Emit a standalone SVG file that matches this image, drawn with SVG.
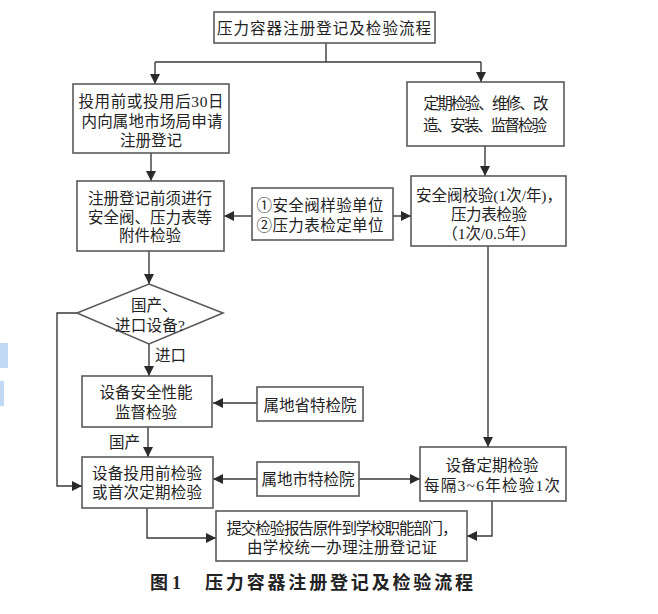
<svg xmlns="http://www.w3.org/2000/svg" width="658" height="614" viewBox="0 0 658 614">
<defs>
<marker id="arr" viewBox="0 0 10 10" refX="10" refY="5" markerWidth="10" markerHeight="11" markerUnits="userSpaceOnUse" orient="auto">
<path d="M0,0 L10,5 L0,10 z" fill="#2b2b2b"/>
</marker>
<style>
.box{fill:#fff;stroke:#5a5a5a;stroke-width:1.6}
.t{font-family:"Liberation Serif","Noto Sans CJK SC",serif;font-size:15.5px;fill:#222;text-anchor:middle;dominant-baseline:central}
.ts{font-family:"Liberation Serif","Noto Sans CJK SC",serif;font-size:15.5px;fill:#222;dominant-baseline:central}
.c{fill:none;stroke:#3a3a3a;stroke-width:1.4}
.ca{fill:none;stroke:#3a3a3a;stroke-width:1.4;marker-end:url(#arr)}
.cap{font-family:"Liberation Serif","Noto Sans CJK SC",sans-serif;font-size:18px;font-weight:bold;fill:#222;dominant-baseline:central}
</style>
</defs>
<rect width="658" height="614" fill="#fff"/>
<rect x="0" y="343" width="8" height="25" fill="#c0d8f4"/>
<rect x="0" y="381" width="4" height="25" fill="#c0d8f4"/>

<g id="connectors">
<path class="c" d="M326,43 V62"/>
<path class="c" d="M155,62 H481"/>
<path class="ca" d="M155,62 V84"/>
<path class="ca" d="M481,62 V82"/>
<path class="ca" d="M151,153 V181"/>
<path class="ca" d="M485,146 V176"/>
<path class="ca" d="M252,216 H224"/>
<path class="ca" d="M393,216 H411"/>
<path class="ca" d="M149,251 V284"/>
<path class="ca" d="M488,246 V447"/>
<path class="ca" d="M149,344 V376"/>
<path class="ca" d="M77,313 H57 V486 H82"/>
<path class="ca" d="M257,403 H213"/>
<path class="ca" d="M148,427 V457"/>
<path class="ca" d="M257,479 H213"/>
<path class="ca" d="M359,479 H420"/>
<path class="ca" d="M147,508 V538 H216"/>
<path class="ca" d="M492,501 V536 H467"/>
<text class="ts" x="155" y="355">进口</text>
<text class="ts" x="109" y="442">国产</text>
</g>

<g id="title">
<rect class="box" x="214" y="12" width="221" height="31"/>
<text class="t" x="324" y="28" textLength="214">压力容器注册登记及检验流程</text>
</g>

<g id="register">
<rect class="box" x="73" y="84" width="156" height="69"/>
<text class="t" x="151" y="101" textLength="145">投用前或投用后30日</text>
<text class="t" x="152" y="121" textLength="141">内向属地市场局申请</text>
<text class="t" x="151" y="140">注册登记</text>
</g>

<g id="periodic">
<rect class="box" x="407" y="82" width="157" height="64"/>
<text class="t" x="486" y="103" textLength="125">定期检验、维修、改</text>
<text class="t" x="485" y="125" textLength="124">造、安装、监督检验</text>
</g>

<g id="accessory">
<rect class="box" x="77" y="181" width="147" height="70"/>
<text class="t" x="150" y="198">注册登记前须进行</text>
<text class="t" x="150" y="217" textLength="124">安全阀、压力表等</text>
<text class="t" x="150" y="235">附件检验</text>
</g>

<g id="units">
<rect class="box" x="252" y="188" width="141" height="52"/>
<text class="t" x="320" y="205" textLength="127">①安全阀样验单位</text>
<text class="t" x="320" y="225" textLength="127">②压力表检定单位</text>
</g>

<g id="valve">
<rect class="box" x="411" y="176" width="155" height="70"/>
<text class="t" x="489" y="195" textLength="146">安全阀校验(1次/年)，</text>
<text class="t" x="489" y="214" textLength="76">压力表检验</text>
<text class="t" x="489" y="233">（1次/0.5年）</text>
</g>

<g id="decision">
<path class="box" d="M149,284 L223,313 L149,344 L77,313 Z"/>
<text class="ts" x="131" y="305">国产、</text>
<text class="ts" x="115" y="325" textLength="70">进口设备?</text>
</g>

<g id="safety">
<rect class="box" x="82" y="376" width="130" height="51"/>
<text class="t" x="146" y="392">设备安全性能</text>
<text class="t" x="146" y="412">监督检验</text>
</g>

<g id="province">
<rect class="box" x="257" y="387" width="106" height="34"/>
<text class="t" x="310" y="405">属地省特检院</text>
</g>

<g id="preuse">
<rect class="box" x="82" y="457" width="131" height="51"/>
<text class="t" x="147" y="473" textLength="110">设备投用前检验</text>
<text class="t" x="147" y="492" textLength="110">或首次定期检验</text>
</g>

<g id="city">
<rect class="box" x="257" y="462" width="102" height="34"/>
<text class="t" x="308" y="479">属地市特检院</text>
</g>

<g id="regular">
<rect class="box" x="420" y="447" width="146" height="54"/>
<text class="t" x="492" y="465">设备定期检验</text>
<text class="t" x="492" y="485" textLength="136">每隔3~6年检验1次</text>
</g>

<g id="submit">
<rect class="box" x="216" y="511" width="251" height="50"/>
<text class="t" x="342" y="528" textLength="231">提交检验报告原件到学校职能部门，</text>
<text class="t" x="342" y="547" textLength="190">由学校统一办理注册登记证</text>
</g>

<g id="caption">
<text class="cap" x="150" y="583">图</text>
<text class="cap" x="172" y="583">1</text>
<text class="cap" x="205" y="583" textLength="268">压力容器注册登记及检验流程</text>
</g>
</svg>
